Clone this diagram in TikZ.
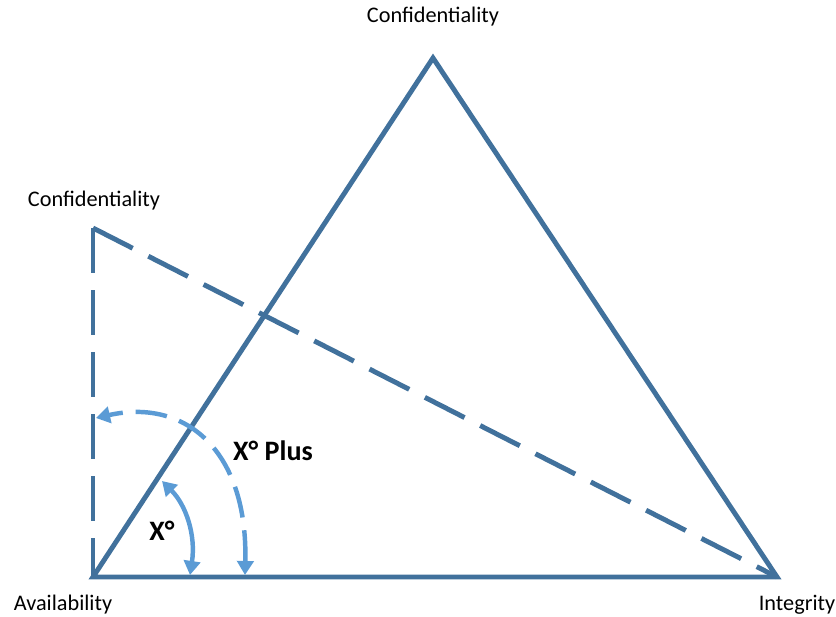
\documentclass[tikz,border=0pt]{standalone}
\usepackage{fontspec}
\setmainfont{Carlito}
\usepackage{xcolor}
\usetikzlibrary{arrows.meta}
\definecolor{edgeblue}{RGB}{65,113,156}
\definecolor{arcblue}{RGB}{91,155,213}

\begin{document}
\begin{tikzpicture}[x=0.03cm,y=-0.03cm,
  side/.style={edgeblue,line width=4.2pt},
  longdash/.style={side,dash pattern=on 38pt off 15pt},
  turn/.style={arcblue,line width=3.8pt,{Triangle[length=12pt,width=14pt]}-{Triangle[length=12pt,width=14pt]}},
  lbl/.style={font=\fontsize{19}{22}\selectfont,inner sep=0pt,anchor=base},
  deg/.style={font=\fontsize{24}{28}\selectfont\bfseries,inner sep=0pt,anchor=base}]
\useasboundingbox (0,0) rectangle (836,617);
% corners
\coordinate (avail) at (93,577);
\coordinate (integ) at (777,577);
\coordinate (conf) at (433,58);
\coordinate (confold) at (93,228);
% labels
\node[lbl] (topconf) at (433,23) {Confidentiality};
\node[lbl] (leftconf) at (94,206) {Confidentiality};
\node[lbl] (availlbl) at (63,610) {Availability};
\node[lbl] (integlbl) at (797,610) {Integrity};
\node[deg] (plus) at (273,460) {X° Plus};
\node[deg] (xdeg) at (162,540) {X°};
% old position, dashed
\draw[longdash] (confold) -- (avail);
\draw[longdash] (confold) -- (integ);
% triangle
\draw[side] (avail) -- (integ) -- (conf) -- cycle;
% angles
\coordinate (smallend) at (190,575);
\coordinate (smalltip) at (162,481);
\draw[turn] (smallend) .. controls (196,535) and (186,505) .. (smalltip);
\coordinate (bigend) at (245,575);
\coordinate (bigtip) at (96,418);
\draw[turn,dash pattern=on 27pt off 11pt] (bigend) .. controls (248,450) and (185,398) .. (bigtip);
\end{tikzpicture}
\end{document}
